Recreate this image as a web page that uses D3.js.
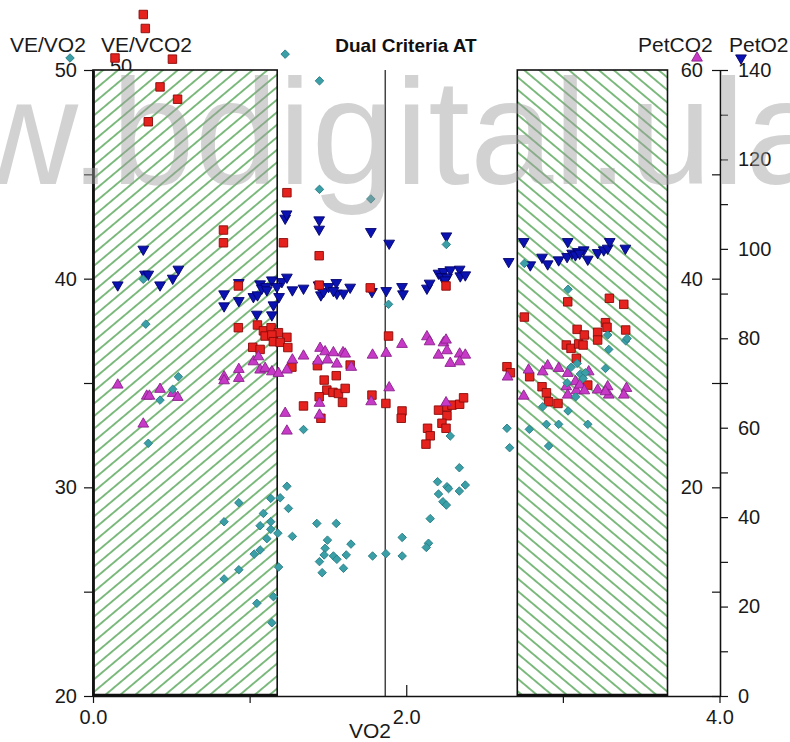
<!DOCTYPE html>
<html><head><meta charset="utf-8">
<script src="https://cdn.jsdelivr.net/npm/d3@7"></script>
<style>
html,body{margin:0;padding:0;background:#fff;}
svg{display:block;font-family:"Liberation Sans",Arial,Helvetica,sans-serif;}
</style></head><body>
<svg id="chart" width="790" height="742"></svg>
<script>
// VE/VO2 readings [VO2, VE/VO2]
const veVo2 = [[1.227,50.76],[1.446,49.48],[1.446,44.28],[1.774,43.82],[2.256,41.64],[0.321,39.97],[0.337,37.82],[0.545,35.30],[0.509,34.70],[0.428,34.18],[0.353,32.11],[1.887,38.77],[1.344,32.77],[2.281,32.46],[2.643,32.83],[2.660,31.90],[2.754,40.73],[3.033,39.49],[3.286,37.30],[3.401,37.02],[3.410,37.13],[3.293,36.61],[3.091,35.94],[3.052,35.75],[3.112,35.43],[3.144,35.49],[3.129,35.22],[3.272,35.70],[3.027,35.01],[3.082,34.34],[2.871,33.86],[3.033,33.66],[2.895,33.02],[2.973,33.02],[3.159,33.02],[2.786,32.78],[2.909,31.98],
  [1.238,30.05],[1.135,29.47],[1.195,29.50],[0.931,29.26],[1.248,28.99],[1.088,28.75],[0.837,28.35],[1.135,28.35],[1.067,28.16],[1.180,27.80],[1.135,27.99],[1.273,27.65],[1.110,27.54],[1.067,27.00],[1.029,26.80],[0.931,26.05],[0.837,25.61],[1.185,26.18],[1.152,24.76],[1.046,24.44],[1.142,23.51],[1.429,28.27],[1.553,28.27],[1.497,27.47],[1.482,27.08],[1.647,27.28],[1.476,26.76],[1.535,26.71],[1.557,26.55],[1.617,26.76],[1.446,26.44],[1.463,25.91],[1.599,26.12],[1.785,26.71],[1.870,26.82],[1.974,27.60],[1.974,26.71],[2.142,27.32],[2.128,27.12],[2.153,28.50],[2.206,29.68],[2.260,30.03],[2.270,29.94],[2.200,30.27],[2.234,29.31],[2.256,29.15],[2.339,30.94],[2.339,29.82],[2.377,30.11]];

// VE/VCO2 readings [VO2, VE/VCO2]
const veVco2 = [[0.321,52.66],[0.334,51.99],[0.507,50.52],[0.428,49.19],[0.540,48.60],[0.353,47.52],[1.238,44.12],[0.833,42.33],[0.833,41.72],[1.216,41.72],[0.928,39.65],[0.928,37.65],[1.050,37.78],[1.088,37.50],[1.137,37.65],[1.184,37.41],[1.099,37.25],[1.142,37.30],[1.238,37.19],[1.152,36.98],[1.195,36.95],[1.244,36.70],[1.020,36.71],[1.067,36.61],[1.270,35.76],[1.444,41.10],[1.444,39.69],[1.770,39.56],[2.254,39.65],[1.887,37.25],[1.433,35.83],[1.642,35.86],[1.553,35.35],[1.476,35.14],[1.493,34.66],[1.532,34.55],[1.567,34.50],[1.610,34.74],[1.444,34.34],[1.593,34.07],[1.781,34.42],[1.344,33.90],[1.455,33.31],[1.870,34.02],[1.973,33.66],[1.968,33.31],[2.206,33.70],[2.260,33.86],[2.292,33.94],[2.341,33.98],[2.366,34.29],[2.260,33.43],[2.228,33.07],[2.254,32.83],[2.136,32.83],[2.153,32.47],[2.126,32.07],[2.643,35.78],[2.665,35.49],[3.031,38.89],[3.297,39.06],[3.389,38.77],[2.754,38.16],[3.091,37.57],[3.272,37.89],[3.282,37.67],[3.401,37.54],[3.137,37.30],[3.222,37.43],[3.222,37.06],[3.022,36.82],[3.052,36.66],[3.101,36.87],[3.129,36.82],[3.086,36.18],[2.788,35.30],[3.159,34.90],[2.867,34.82],[2.895,34.53],[2.909,34.10],[2.969,34.02]];

// PetCO2 readings [VO2, PetCO2]
const petCo2 = [[0.158,29.81],[0.343,28.75],[0.360,28.75],[0.428,29.40],[0.509,29.01],[0.541,28.63],[0.321,26.07],[0.837,30.60],[0.837,30.22],[0.931,31.31],[0.931,30.45],[1.024,32.04],[1.056,32.52],[1.067,31.25],[1.099,31.41],[1.142,31.08],[1.184,30.93],[1.238,31.25],[1.273,32.21],[1.227,27.10],[1.238,25.40],[1.450,33.33],[1.482,33.00],[1.535,32.91],[1.596,32.91],[1.610,32.78],[1.344,32.59],[1.436,32.11],[1.497,32.21],[1.557,31.82],[1.649,31.51],[1.785,32.68],[1.872,32.85],[1.973,33.71],[2.132,34.44],[2.149,33.96],[2.238,33.86],[2.254,34.12],[2.206,32.68],[2.260,33.10],[2.281,31.89],[2.341,32.78],[2.377,32.68],[2.341,32.04],[1.891,29.55],[1.446,28.06],[1.446,26.93],[1.776,28.21],[2.254,28.11],[2.647,30.58],[2.781,31.25],[2.903,31.66],[2.871,31.08],[2.973,31.41],[3.031,30.93],[2.750,28.75],[3.022,29.65],[3.031,28.85],[3.080,30.13],[3.086,29.26],[3.108,29.81],[3.137,29.26],[3.165,31.08],[3.222,29.33],[3.286,29.65],[3.293,28.85],[3.272,29.17],[3.406,29.49],[3.389,28.85]];

// PetO2 readings [VO2, PetO2]
const petO2 = [[0.158,91.92],[0.321,99.91],[0.332,94.32],[0.353,94.32],[0.428,91.92],[0.509,93.42],[0.545,95.44],[0.837,89.91],[0.837,87.23],[0.931,92.44],[0.931,88.41],[1.024,89.31],[1.050,89.69],[1.067,92.15],[1.078,91.19],[1.105,91.55],[1.110,90.81],[1.142,93.04],[1.152,87.45],[1.188,89.31],[1.206,92.66],[1.174,91.55],[1.238,93.65],[1.273,90.81],[1.046,85.37],[1.142,85.22],[1.227,106.84],[1.236,107.8],[1.444,106.46],[1.444,104.38],[1.774,103.85],[1.891,101.25],[2.256,102.88],[2.654,97.14],[1.344,91.19],[1.440,91.92],[1.455,89.69],[1.472,90.43],[1.504,91.55],[1.553,92.44],[1.557,90.07],[1.599,90.07],[1.642,91.41],[1.535,90.65],[1.781,90.43],[1.872,90.65],[1.973,91.55],[1.979,89.91],[2.132,91.19],[2.149,92.31],[2.206,94.54],[2.238,94.90],[2.281,95.28],[2.228,93.78],[2.260,93.65],[2.341,95.44],[2.345,93.94],[2.377,94.16],[2.249,93.04],[2.750,101.61],[2.792,96.40],[2.867,98.12],[2.903,96.62],[2.973,97.52],[3.031,101.61],[3.027,98.26],[3.059,99.01],[3.095,99.37],[3.133,99.75],[3.080,98.64],[3.107,99.01],[3.159,97.67],[3.222,99.15],[3.261,99.75],[3.286,100.13],[3.299,101.61],[3.399,100.13]];

// axis ticks
const vo2Ticks = [0, 1, 2, 3, 4];
const vo2Labels = [0, 2, 4];
const veTicks = [20, 25, 30, 35, 40, 45, 50];
const veLabels = [20, 30, 40, 50];
const co2Ticks = [0, 10, 20, 30, 40, 50, 60];
const co2Labels = [20, 40, 60];
const o2Ticks = [0, 10, 20, 30, 40, 50, 60, 70, 80, 90, 100, 110, 120, 130, 140];
const o2Labels = [0, 20, 40, 60, 80, 100, 120, 140];

// exclusion zones [from, to, hatch angle] and the chosen threshold (VO2)
const hatchZones = [[0, 1.176, -40], [2.709, 3.668, 40]];
const atVo2 = 1.866;

const svg = d3.select("#chart");
const x = d3.scaleLinear().domain([0, 4]).range([93, 719.5]);
const yVE = d3.scaleLinear().domain([20, 50]).range([696, 70]);
const yCO2 = d3.scaleLinear().domain([0, 60]).range([696, 70]);
const yO2 = d3.scaleLinear().domain([0, 140]).range([696, 70]);
const plotTop = yVE(50), plotBottom = yVE(20);

const FS = 20;
const defs = svg.append("defs");
hatchZones.forEach((z, i) => {
  const p = defs.append("pattern").attr("id", "hatch" + i)
    .attr("patternUnits", "userSpaceOnUse").attr("width", 30).attr("height", 9.6)
    .attr("patternTransform", `rotate(${z[2]})`);
  p.append("rect").attr("width", 30).attr("height", 9.6).attr("fill", "#fff");
  p.append("line").attr("x1", 0).attr("x2", 30).attr("y1", 4.8).attr("y2", 4.8)
    .attr("stroke", "#1f8a22").attr("stroke-width", 1.15);
});

// second left-axis label sits beneath the zone box
svg.append("text").attr("x", 121).attr("y", 73).attr("text-anchor", "middle")
  .attr("font-size", FS).attr("fill", "#1a1a1a").text("50");

// hatched zones
hatchZones.forEach((z, i) => {
  svg.append("rect").attr("x", x(z[0])).attr("y", plotTop)
    .attr("width", x(z[1]) - x(z[0])).attr("height", plotBottom - plotTop)
    .attr("fill", `url(#hatch${i})`).attr("stroke", "#111").attr("stroke-width", 1.6);
  svg.append("line").attr("x1", x(z[0])).attr("x2", x(z[1])).attr("y1", plotBottom - 1).attr("y2", plotBottom - 1)
    .attr("stroke", "#111").attr("stroke-width", 2.5);
});

// threshold line
svg.append("line").attr("x1", x(atVo2)).attr("x2", x(atVo2)).attr("y1", plotTop).attr("y2", plotBottom)
  .attr("stroke", "#444").attr("stroke-width", 1.5);

function styleAxis(g, w) {
  g.selectAll("path.domain").attr("stroke", "#111").attr("stroke-width", w);
  g.selectAll(".tick line").attr("stroke", "#111").attr("stroke-width", 1.2);
  g.selectAll(".tick text").attr("font-size", FS).attr("fill", "#1a1a1a")
    .attr("font-family", '"Liberation Sans",Arial,sans-serif');
}

// left axis: VE/VO2
const gL = svg.append("g").attr("transform", `translate(${x(0)},0)`)
  .call(d3.axisLeft(yVE).tickValues(veTicks).tickSize(9).tickSizeOuter(0).tickPadding(7)
    .tickFormat(d => veLabels.includes(d) ? d : ""));
styleAxis(gL, 2.8);

// right axes: PetCO2 (inner side) and PetO2 (outer side)
const gC = svg.append("g").attr("transform", `translate(720,0)`)
  .call(d3.axisLeft(yCO2).tickValues(co2Ticks).tickSize(8).tickSizeOuter(0).tickPadding(9)
    .tickFormat(d => co2Labels.includes(d) ? d : ""));
styleAxis(gC, 1.3);
const gO = svg.append("g").attr("transform", `translate(720,0)`)
  .call(d3.axisRight(yO2).tickValues(o2Ticks).tickSize(8).tickSizeOuter(0).tickPadding(10)
    .tickFormat(d => o2Labels.includes(d) ? d : ""));
styleAxis(gO, 1.3);

// bottom axis: VO2
const gB = svg.append("g").attr("transform", `translate(0,${plotBottom})`)
  .call(d3.axisBottom(x).tickValues(vo2Ticks).tickSize(7).tickSizeOuter(0).tickPadding(7)
    .tickFormat(d => vo2Labels.includes(d) ? d3.format(".1f")(d) : ""));
styleAxis(gB, 1.6);
gB.selectAll(".tick").filter(d => d === 2).select("line").attr("y2", -11);

// titles
svg.append("text").attr("x", 406).attr("y", 52).attr("text-anchor", "middle")
  .attr("font-size", 19).attr("font-weight", "bold").attr("fill", "#111").text("Dual Criteria AT");
const titles = [["VE/VO2", 10], ["VE/VCO2", 101], ["PetCO2", 638], ["PetO2", 729]];
titles.forEach(t => svg.append("text").attr("x", t[1]).attr("y", 52)
  .attr("font-size", 21).attr("fill", "#1a1a1a").text(t[0]));
svg.append("text").attr("x", 370).attr("y", 738).attr("text-anchor", "middle")
  .attr("font-size", 21).attr("fill", "#1a1a1a").text("VO2");

// marker styles
const styles = {
  cyan: {fill: "#3b9fa8", stroke: "#2b7e86", sym: d3.symbolSquare, size: 36, rot: 45},
  red: {fill: "#e5221d", stroke: "#8a0a0a", sym: d3.symbolSquare, size: 72, rot: 0},
  mag: {fill: "#c73ac7", stroke: "#8a1f8a", sym: d3.symbolTriangle, size: 50, rot: 0},
  blue: {fill: "#0b12b2", stroke: "#02026a", sym: d3.symbolTriangle, size: 50, rot: 180}
};
function drawSeries(data, ys, st) {
  const path = d3.symbol().type(st.sym).size(st.size)();
  svg.append("g").selectAll("path").data(data).join("path")
    .attr("d", path)
    .attr("transform", d => `translate(${x(d[0])},${ys(d[1])}) rotate(${st.rot})`)
    .attr("fill", st.fill).attr("stroke", st.stroke).attr("stroke-width", 0.9);
}
drawSeries(petO2, yO2, styles.blue);
drawSeries(veVco2, yVE, styles.red);
drawSeries(petCo2, yCO2, styles.mag);
drawSeries(veVo2, yVE, styles.cyan);

// series keys beside the axis titles
const keys = [[70, styles.cyan], [115, styles.red], [697, styles.mag], [741, styles.blue]];
keys.forEach(k => svg.append("path").attr("d", d3.symbol().type(k[1].sym).size(k[1].size)())
  .attr("transform", `translate(${k[0]},58) rotate(${k[1].rot})`)
  .attr("fill", k[1].fill).attr("stroke", k[1].stroke).attr("stroke-width", 0.9));

// site stamp across the top
svg.append("text").attr("x", -247).attr("y", 184).attr("font-size", 150)
  .attr("fill", "#9c9c9c").attr("fill-opacity", 0.46).text("www.bdigital.ula.ve");
</script>
</body></html>
